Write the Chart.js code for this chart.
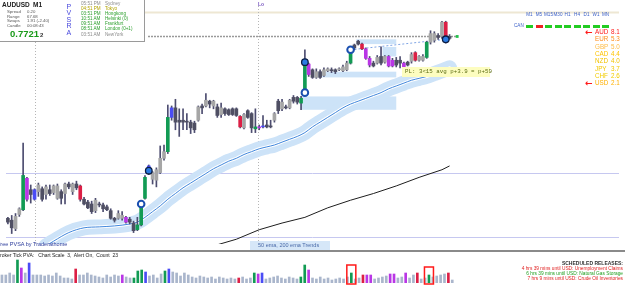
<!DOCTYPE html>
<html>
<head>
<meta charset="utf-8">
<script src="https://cdn.jsdelivr.net/npm/chart.js@4.4.1/dist/chart.umd.min.js"></script>
<style>
  body { margin: 0; background: #fff; font-family: "Liberation Sans", Arial, sans-serif; }
  #wrap { position: relative; width: 625px; height: 285px; overflow: hidden; }
  canvas { position: absolute; left: 0; }
  .t { position: absolute; white-space: pre; line-height: 1; }
</style>
</head>
<body>
<div id="wrap">
  <canvas id="chart" width="625" height="250" style="top:0"></canvas>
  <div style="position:absolute;left:0;top:250px;width:625px;height:2px;background:#8a8a8a"></div>
  <canvas id="volume" width="625" height="33" style="top:252px"></canvas>
  <div id="labels"></div>
</div>
<script>
// AUDUSD M1 candles, oldest first
const highs = [
  0.77028,0.77030,0.77032,0.77038,0.77106,0.77070,0.77062,0.77058,0.77064,0.77060,
  0.77062,0.77062,0.77062,0.77063,0.77057,0.77064,0.77065,0.77064,0.77066,0.77062,
  0.77049,0.77046,0.77045,0.77048,0.77044,0.77043,0.77041,0.77037,0.77028,0.77035,
  0.77034,0.77029,0.77028,0.77024,0.77028,0.77043,0.77072,0.77083,0.77076,0.77080,
  0.77103,0.77104,0.77146,0.77145,0.77152,0.77142,0.77142,0.77137,0.77130,0.77129,
  0.77145,0.77147,0.77158,0.77151,0.77151,0.77147,0.77148,0.77143,0.77142,0.77143,
  0.77143,0.77135,0.77137,0.77141,0.77138,0.77142,0.77125,0.77135,0.77130,0.77130,
  0.77138,0.77152,0.77152,0.77146,0.77152,0.77156,0.77155,0.77155,0.77204,0.77190,
  0.77184,0.77184,0.77183,0.77185,0.77185,0.77185,0.77184,0.77185,0.77188,0.77192,
  0.77204,0.77210,0.77214,0.77211,0.77206,0.77197,0.77192,0.77198,0.77207,0.77198,
  0.77198,0.77195,0.77196,0.77197,0.77191,0.77192,0.77201,0.77202,0.77198,0.77199,
  0.77213,0.77224,0.77223,0.77221,0.77234,0.77234,0.77220
];
const lows = [
  0.77021,0.77011,0.77014,0.77029,0.77035,0.77045,0.77043,0.77046,0.77050,0.77045,
  0.77047,0.77051,0.77052,0.77047,0.77042,0.77042,0.77058,0.77052,0.77057,0.77045,
  0.77041,0.77037,0.77032,0.77033,0.77039,0.77034,0.77035,0.77026,0.77023,0.77026,
  0.77025,0.77022,0.77021,0.77012,0.77014,0.77019,0.77047,0.77073,0.77063,0.77060,
  0.77074,0.77088,0.77095,0.77130,0.77120,0.77113,0.77120,0.77120,0.77116,0.77117,
  0.77129,0.77137,0.77144,0.77143,0.77142,0.77133,0.77133,0.77135,0.77135,0.77135,
  0.77134,0.77122,0.77121,0.77132,0.77117,0.77117,0.77120,0.77122,0.77122,0.77122,
  0.77128,0.77137,0.77140,0.77142,0.77142,0.77148,0.77147,0.77141,0.77158,0.77176,
  0.77174,0.77174,0.77174,0.77176,0.77181,0.77180,0.77179,0.77182,0.77181,0.77182,
  0.77189,0.77204,0.77209,0.77204,0.77194,0.77186,0.77186,0.77189,0.77188,0.77190,
  0.77186,0.77186,0.77186,0.77185,0.77183,0.77187,0.77190,0.77192,0.77192,0.77192,
  0.77195,0.77210,0.77212,0.77215,0.77216,0.77211,0.77215
];
const opens = [
  0.77027,0.77025,0.77016,0.77031,0.77036,0.77069,0.77057,0.77047,0.77055,0.77058,
  0.77052,0.77057,0.77054,0.77048,0.77055,0.77053,0.77063,0.77055,0.77063,0.77061,
  0.77047,0.77044,0.77042,0.77035,0.77042,0.77041,0.77039,0.77035,0.77027,0.77027,
  0.77027,0.77028,0.77026,0.77022,0.77015,0.77020,0.77048,0.77075,0.77068,0.77067,
  0.77075,0.77090,0.77097,0.77133,0.77143,0.77130,0.77130,0.77129,0.77128,0.77127,
  0.77130,0.77145,0.77145,0.77150,0.77145,0.77144,0.77136,0.77142,0.77141,0.77142,
  0.77142,0.77134,0.77122,0.77140,0.77137,0.77121,0.77123,0.77123,0.77125,0.77124,
  0.77130,0.77150,0.77142,0.77144,0.77143,0.77154,0.77154,0.77148,0.77160,0.77189,
  0.77183,0.77175,0.77181,0.77177,0.77182,0.77183,0.77183,0.77183,0.77182,0.77183,
  0.77190,0.77209,0.77213,0.77210,0.77205,0.77195,0.77190,0.77190,0.77197,0.77191,
  0.77197,0.77193,0.77193,0.77193,0.77190,0.77191,0.77192,0.77201,0.77193,0.77193,
  0.77196,0.77212,0.77214,0.77219,0.77218,0.77233,0.77218
];
const closes = [
  0.77023,0.77017,0.77029,0.77037,0.77072,0.77047,0.77052,0.77057,0.77062,0.77047,
  0.77060,0.77053,0.77061,0.77061,0.77048,0.77063,0.77060,0.77063,0.77059,0.77047,
  0.77042,0.77038,0.77034,0.77046,0.77041,0.77037,0.77036,0.77027,0.77025,0.77032,
  0.77030,0.77023,0.77023,0.77014,0.77020,0.77042,0.77070,0.77082,0.77075,0.77078,
  0.77090,0.77097,0.77133,0.77143,0.77128,0.77128,0.77128,0.77128,0.77122,0.77120,
  0.77144,0.77143,0.77151,0.77147,0.77150,0.77135,0.77143,0.77137,0.77136,0.77136,
  0.77135,0.77123,0.77136,0.77133,0.77122,0.77123,0.77122,0.77124,0.77123,0.77123,
  0.77137,0.77140,0.77149,0.77143,0.77151,0.77150,0.77149,0.77153,0.77191,0.77178,
  0.77175,0.77181,0.77175,0.77183,0.77184,0.77182,0.77181,0.77184,0.77186,0.77190,
  0.77203,0.77206,0.77210,0.77205,0.77195,0.77188,0.77187,0.77196,0.77190,0.77197,
  0.77187,0.77187,0.77188,0.77190,0.77185,0.77188,0.77199,0.77193,0.77197,0.77197,
  0.77212,0.77221,0.77221,0.77217,0.77233,0.77215,0.77216
];
// PVSRA bar class: g/d normal up/down, G/R climax up/down, B/P rising volume up/down
const vsa = [
  'd','d','g','g','G','P','d','B','g','d',
  'g','d','g','g','d','g','d','g','d','R',
  'd','d','d','g','d','d','d','d','d','g',
  'g','P','d','d','G','G','G','B','g','g',
  'g','g','G','B','d','d','d','d','d','d',
  'g','d','g','d','g','d','g','d','d','d',
  'd','R','g','d','d','G','P','B','d','d',
  'g','d','g','d','g','d','d','G','G','P',
  'd','g','d','g','g','d','d','g','g','g',
  'G','d','d','R','P','P','d','g','d','g',
  'P','P','d','d','P','d','g','R','g','g',
  'G','g','g','d','g','R','d'
];
// tick volume per candle
const ticks = [
  16,16,20,16,46,30,20,40,16,16,
  16,14,16,14,20,14,10,10,8,28,
  16,16,20,16,14,12,10,16,12,16,
  14,16,12,10,10,24,26,22,14,16,
  10,18,24,28,22,20,14,20,16,12,
  10,14,12,10,12,8,12,10,8,10,
  8,10,12,8,10,20,18,20,8,10,
  12,14,10,8,12,10,8,12,36,26,
  10,8,12,8,10,6,8,10,8,12,
  20,8,10,16,16,16,8,10,12,14,
  18,18,10,12,20,10,16,20,8,10,
  16,12,14,16,18,20,6
];
const alertBars = [90, 110];

// 50 ema (with trend band) and 200 ema, sampled at candle indexes
const ema50Idx = [10,12,16,20,24,28,32,34,36,38,40,42,44,46,48,50,52,54,56,58,60,62,64,66,68,70,72,74,76,78,80,82,84,86,88,90,92,94,96,98,100,102,104,106,108,110,112,114,116];
const ema50 = [0.76998,0.77003,0.77012,0.77017,0.77018,0.77019,0.77021,0.77023,0.77028,0.77034,0.77040,0.77047,0.77053,0.77059,0.77064,0.77069,0.77074,0.77079,0.77083,0.77087,0.77090,0.77094,0.77097,0.77100,0.77102,0.77104,0.77107,0.77110,0.77113,0.77117,0.77123,0.77128,0.77133,0.77138,0.77143,0.77147,0.77150,0.77153,0.77156,0.77159,0.77163,0.77166,0.77169,0.77172,0.77174,0.77176,0.77179,0.77182,0.77185];
const ema200Idx = [54,60,66,72,78,84,90,96,102,108,114,116];
const ema200 = [0.76998,0.77005,0.77015,0.77022,0.77028,0.77038,0.77046,0.77053,0.77061,0.77070,0.77078,0.77082];

// pivot markers
const markIdx = [35, 37, 78, 78, 90, 115];
const markPrice = [0.77042, 0.77077, 0.77159, 0.77191, 0.77204, 0.77215];
const markFilled = [false, true, false, true, false, true];
const nextIdx = 118, nextPrice = 0.77218;
const trendIdx = [90, 115], trendPrice = [0.77204, 0.77215];

// supply / demand zones
const zoneStart = [76.8, 79.9, 91.5, 98.4];
const zoneEnd = [102, 102, 102, 102];
const zoneTop = [0.77155, 0.77181, 0.77215, 0.77207];
const zoneBottom = [0.77141, 0.77175, 0.77210, 0.77197];

const sessionLevel = 0.77244;
const pivotLevels = [0.77075, 0.77007];
const priorLevel = 0.77218, priorFrom = 36.8, priorTo = 118;
const sessionStarts = [7, 65.7];

// panel texts
const sessionTimes = ['05:51 PM','04:51 PM','03:51 PM','10:51 AM','09:51 AM','08:51 AM','03:51 AM'];
const sessionNames = ['Sydney','Tokyo','Hongkong','Helsinki (0)','Frankfurt','London (0+1)','NewYork'];
const statNames = ['Spread','Range','Swaps','Candle'];
const statValues = ['0.20','67.68','1.91 (-2.40)','00:08:43'];
const timeframes = ['M1','M5','M15','M30','H1','H4','D1','W1','MN'];
const tfTrend = [1,-1,1,1,1,1,1,1,1];
const currencies = ['AUD','EUR','GBP','CAD','NZD','JPY','CHF','USD'];
const strength = [8.1, 5.3, 5.0, 4.4, 4.0, 3.7, 2.6, 2.1];
const releases = [
  '4 hrs 39 mins until USD: Unemployment Claims',
  '6 hrs 39 mins until USD: Natural Gas Storage',
  '7 hrs 9 mins until USD: Crude Oil Inventories'
];

const bodyColor = { g: '#a6a6a6', d: '#4f4f63', G: '#129b54', R: '#dc1f45', B: '#4a4cf5', P: '#b936e6' };
const volColor = { g: '#aab6cc', d: '#aab6cc', G: '#129b54', R: '#dc1f45', B: '#4a4cf5', P: '#b936e6' };

const idx = closes.map((c, i) => i);
const xScale = { type: 'linear', min: -0.5, max: 160.5, offset: false, display: false };

const overlay = {
  id: 'overlay',
  beforeDatasetsDraw(chart) {
    const { ctx, chartArea: a, scales: { x, y } } = chart;
    ctx.save();
    ctx.fillStyle = '#cde3f8';
    zoneStart.forEach((s, k) => {
      const x0 = x.getPixelForValue(s), x1 = x.getPixelForValue(zoneEnd[k]);
      const y0 = y.getPixelForValue(zoneTop[k]), y1 = y.getPixelForValue(zoneBottom[k]);
      ctx.fillRect(x0, y0, x1 - x0, y1 - y0);
    });

    function hline(p, color, width, dash, from, to) {
      const py = Math.round(y.getPixelForValue(p)) + 0.5;
      ctx.strokeStyle = color;
      ctx.lineWidth = width;
      ctx.setLineDash(dash);
      ctx.beginPath();
      ctx.moveTo(from, py);
      ctx.lineTo(to, py);
      ctx.stroke();
    }
    hline(sessionLevel, '#eee7d3', 2, [], a.left, a.right);
    pivotLevels.forEach(p => hline(p, '#c6c8f0', 1, [], a.left, a.right));
    hline(priorLevel, '#999', 1.5, [2, 1], x.getPixelForValue(priorFrom), x.getPixelForValue(priorTo));

    ctx.strokeStyle = '#b5b5b5';
    ctx.lineWidth = 1;
    ctx.setLineDash([1, 2]);
    sessionStarts.forEach(s => {
      const px = Math.round(x.getPixelForValue(s)) + 0.5;
      ctx.beginPath();
      ctx.moveTo(px, a.top);
      ctx.lineTo(px, a.bottom);
      ctx.stroke();
    });

    ctx.strokeStyle = '#7ea4e4';
    ctx.setLineDash([2, 2]);
    ctx.beginPath();
    ctx.moveTo(x.getPixelForValue(trendIdx[0]), y.getPixelForValue(trendPrice[0]));
    ctx.lineTo(x.getPixelForValue(trendIdx[1]), y.getPixelForValue(trendPrice[1]));
    ctx.stroke();
    ctx.restore();
  }
};

const emaPoints = (xs, ys) => xs.map((x, k) => ({ x, y: ys[k] }));
const emaLine = (color, width, order) => ({
  type: 'line', data: emaPoints(ema50Idx, ema50), borderColor: color, borderWidth: width,
  pointRadius: 0, cubicInterpolationMode: 'monotone', borderCapStyle: 'round', order
});

new Chart(document.getElementById('chart').getContext('2d'), {
  type: 'bar',
  data: {
    datasets: [
      {
        type: 'line', data: emaPoints(markIdx, markPrice), showLine: false, order: 0,
        pointRadius: 3.3,
        pointBackgroundColor: markFilled.map(f => f ? '#2b7be3' : '#ffffff'),
        pointBorderColor: markFilled.map(f => f ? '#0c1d44' : '#1a4fb0'),
        pointBorderWidth: markFilled.map(f => f ? 1.3 : 2)
      },
      {
        type: 'line', data: [{ x: nextIdx, y: nextPrice }], showLine: false, order: 0,
        pointStyle: 'rect', pointRadius: 2, pointBackgroundColor: '#22c04a', pointBorderWidth: 0
      },
      {
        data: idx.map(i => ({ x: i, y: [opens[i], closes[i]] })),
        backgroundColor: vsa.map(t => bodyColor[t]),
        barThickness: 3, minBarLength: 1, grouped: false, order: 1
      },
      {
        data: idx.map(i => ({ x: i, y: [lows[i], highs[i]] })),
        backgroundColor: '#4d4d70',
        barThickness: 1, grouped: false, order: 2
      },
      emaLine('#3f86dc', 1, 3),
      emaLine('#ffffff', 3, 4),
      emaLine('#cde3f8', 15, 5),
      {
        type: 'line', data: emaPoints(ema200Idx, ema200), borderColor: '#1e1e1e', borderWidth: 1,
        pointRadius: 0, order: 6
      }
    ]
  },
  options: {
    responsive: false,
    animation: false,
    events: [],
    layout: { padding: 0 },
    plugins: { legend: { display: false }, tooltip: { enabled: false } },
    scales: {
      x: xScale,
      y: { min: 0.7700, max: 0.7725, display: false }
    }
  },
  plugins: [overlay]
});

const alertBoxes = {
  id: 'alertBoxes',
  afterDatasetsDraw(chart) {
    const { ctx, chartArea: a, scales: { x, y } } = chart;
    ctx.save();
    ctx.strokeStyle = '#ff1a1a';
    ctx.lineWidth = 1.5;
    alertBars.forEach(i => {
      const px = x.getPixelForValue(i);
      const top = y.getPixelForValue(ticks[i]) - 8;
      ctx.strokeRect(px - 4.5, top, 9, a.bottom + 1 - top);
    });
    ctx.restore();
  }
};

new Chart(document.getElementById('volume').getContext('2d'), {
  type: 'bar',
  data: {
    datasets: [{
      data: idx.map(i => ({ x: i, y: ticks[i] })),
      backgroundColor: vsa.map(t => volColor[t]),
      barThickness: 2
    }]
  },
  options: {
    responsive: false,
    animation: false,
    events: [],
    layout: { padding: { bottom: 2 } },
    plugins: { legend: { display: false }, tooltip: { enabled: false } },
    scales: {
      x: xScale,
      y: { min: 0, max: 62, display: false }
    }
  },
  plugins: [alertBoxes]
});

// text overlays
const host = document.getElementById('labels');
function box(x, y, w, h, css) {
  const el = document.createElement('div');
  el.style.cssText = 'position:absolute;left:' + x + 'px;top:' + y + 'px;width:' + w + 'px;height:' + h + 'px;' + (css || '');
  host.appendChild(el);
  return el;
}
function label(text, x, yc, size, css, right) {
  const el = document.createElement('div');
  el.className = 't';
  el.textContent = text;
  el.style.fontSize = size + 'px';
  el.style.top = (yc - size * 0.5) + 'px';
  if (right) el.style.right = x + 'px'; else el.style.left = x + 'px';
  el.style.cssText += css || '';
  host.appendChild(el);
  return el;
}

box(0, 0, 144, 41, 'background:#fff;border-right:1px solid #9a9a9a;border-bottom:1px solid #9a9a9a');
label('AUDUSD', 2, 5.5, 6.5, 'font-weight:bold;color:#222');
label('M1', 33, 5.5, 6.5, 'font-weight:bold;color:#222');
statNames.forEach((s, k) => {
  label(s, 7, 12.3 + k * 4.5, 4.3, 'color:#555');
  label(statValues[k], 27, 12.3 + k * 4.5, 4.3, 'color:#555');
});
label('0.7721', 10, 33.5, 9.5, 'font-weight:bold;color:#1a9a1a');
label('2', 40, 35, 6, 'font-weight:bold;color:#333');
'PVSRA'.split('').forEach((ch, k) => label(ch, 66.5, 6.2 + k * 6.5, 7, 'color:#4646dc'));
const sessionColor = ['#8c8c8c', '#b3a400', '#2ea02e', '#2ea02e', '#2ea02e', '#2ea02e', '#8c8c8c'];
sessionTimes.forEach((t, k) => {
  const yc = 4 + k * 5.15;
  label(t, 81, yc, 4.6, 'color:' + sessionColor[k]);
  label(sessionNames[k], 105, yc, 4.6, 'color:' + sessionColor[k]);
});

label('Lo', 258, 4, 5, 'font-weight:bold;color:#7a58c0');

timeframes.forEach((tf, k) => {
  const cx = 529.5 + k * 9.5;
  const el = label(tf, cx - 10, 15, 4.6, 'color:#3a5fc8;width:20px;text-align:center');
  box(cx - 3.5, 25, 7, 2.5, 'background:' + (tfTrend[k] > 0 ? '#22cc22' : '#ee2222'));
});
label('CAN', 514, 26.5, 4.6, 'color:#3a5fc8');

const strengthColor = ['#ff1a1a', '#ff8c1a', '#ffbb44', '#ffc400', '#f2c200', '#f2c800', '#f2cc00', '#ffb000'];
currencies.forEach((c, k) => {
  const yc = 32.3 + k * 7.28;
  label(c, 595, yc, 6.3, 'color:' + strengthColor[k]);
  label(strength[k].toFixed(1), 611, yc, 6.3, 'color:' + strengthColor[k]);
});
[0, currencies.length - 1].forEach(k => {
  label('\u2190', 585, 32.3 + k * 7.28, 9, 'color:#ff1a1a;font-weight:bold;font-family:"DejaVu Sans"');
});

box(402, 67, 88, 10, 'background:#fdfdc0');
label('PL: 3<15 avg p+3.9 = p+59', 405, 72, 5.8, 'font-family:"Liberation Mono",monospace;color:#5a6a10');

label('Free PVSA by Traderathome', -3, 245, 5.5, 'color:#2c3c9c');
box(250, 241, 80, 9, 'background:#d6e7f8');
label('50 ema, 200 ema Trends', 258, 245.5, 5.5, 'color:#4a6aa8');

label('Broker Tick PVA:   Chart Scale  3,  Alert On,  Count  23', -3.3, 255.5, 5, 'color:#222');
label('SCHEDULED RELEASES:', 2, 263.5, 5, 'font-weight:bold;color:#333', true);
const releaseColor = ['#e02020', '#20a020', '#e02020'];
releases.forEach((r, k) => label(r, 2, 269.3 + k * 5, 4.8, 'color:' + releaseColor[k], true));
</script>
</body>
</html>
